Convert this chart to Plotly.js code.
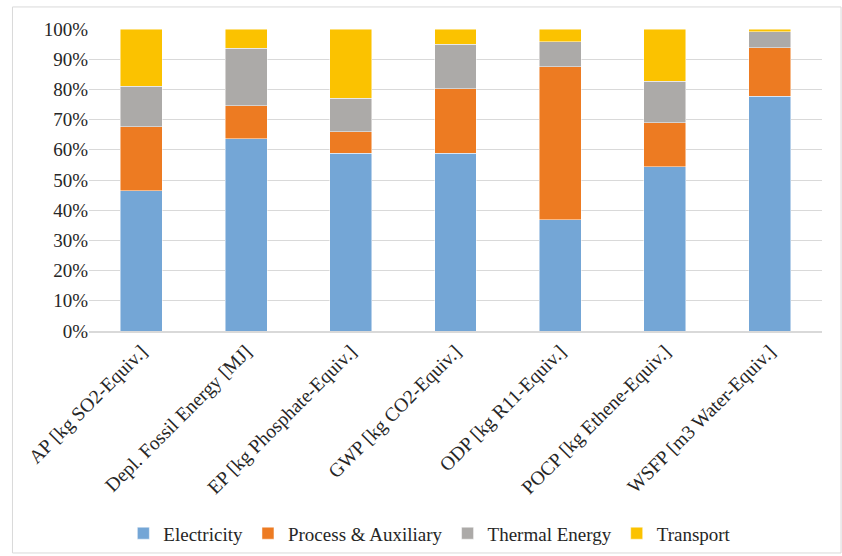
<!DOCTYPE html>
<html>
<head>
<meta charset="utf-8">
<script src="https://cdn.plot.ly/plotly-3.0.1.min.js"></script>
<style>
html,body{margin:0;padding:0;background:#fff;}
#chart{width:842px;height:556px;}
</style>
</head>
<body>
<div id="chart"></div>
<script>
const categories = [
  "AP [kg SO2-Equiv.]",
  "Depl. Fossil Energy [MJ]",
  "EP [kg Phosphate-Equiv.]",
  "GWP [kg CO2-Equiv.]",
  "ODP [kg R11-Equiv.]",
  "POCP [kg Ethene-Equiv.]",
  "WSFP [m3 Water-Equiv.]"
];
const electricity = [46.5, 63.7, 58.8, 58.8, 36.9, 54.4, 77.8];
const processAux  = [21.2, 10.9,  7.2, 21.4, 50.6, 14.6, 16.0];
const thermal     = [13.4, 19.1, 11.0, 14.7,  8.3, 13.7,  5.3];
const transport   = [18.9,  6.3, 23.0,  5.1,  4.2, 17.3,  0.9];

const seriesNames = ["Electricity", "Process & Auxiliary", "Thermal Energy", "Transport"];
const seriesColors = ["#74a6d6", "#ed7b22", "#acaaa8", "#fbc200"];
const seriesValues = [electricity, processAux, thermal, transport];

const FONT = "Liberation Serif";

const traces = seriesValues.map((vals, i) => ({
  type: "bar",
  name: seriesNames[i],
  x: categories,
  y: vals.map(v => v / 100),
  marker: { color: seriesColors[i], line: { color: "rgba(255,255,255,0.6)", width: 0.8 } },
  hoverinfo: "x+y+name"
}));

const layout = {
  width: 842,
  height: 556,
  barmode: "stack",
  bargap: 0.6,
  margin: { l: 89, r: 20, t: 29, b: 225, autoexpand: false },
  paper_bgcolor: "#fff",
  plot_bgcolor: "#fff",
  font: { family: FONT, size: 19, color: "#262626" },
  showlegend: true,
  legend: {
    orientation: "h",
    x: 0.465, xanchor: "center",
    y: -0.67, yanchor: "middle",
    font: { family: FONT, size: 19, color: "#262626" },
    itemwidth: 30,
    traceorder: "normal"
  },
  xaxis: {
    type: "category",
    tickangle: -45,
    automargin: false,
    showgrid: false,
    showline: true,
    linecolor: "#d9d9d9",
    linewidth: 1.5,
    ticks: "",
    tickfont: { family: FONT, size: 19.5, color: "#262626" }
  },
  yaxis: {
    range: [0, 1],
    dtick: 0.1,
    tickformat: ".0%",
    automargin: false,
    showgrid: true,
    gridcolor: "#d9d9d9",
    gridwidth: 1,
    zeroline: false,
    showline: false,
    ticks: "",
    ticklen: 0,
    tickfont: { family: FONT, size: 19, color: "#262626" }
  },
  shapes: [{
    type: "rect",
    xref: "paper", yref: "paper",
    x0: -0.1044, x1: 1.026,
    y0: -0.735, y1: 1.073,
    line: { color: "#d9d9d9", width: 1 },
    fillcolor: "rgba(0,0,0,0)",
    layer: "below"
  }]
};

Plotly.newPlot("chart", traces, layout, { displayModeBar: false, staticPlot: true });
</script>
</body>
</html>
